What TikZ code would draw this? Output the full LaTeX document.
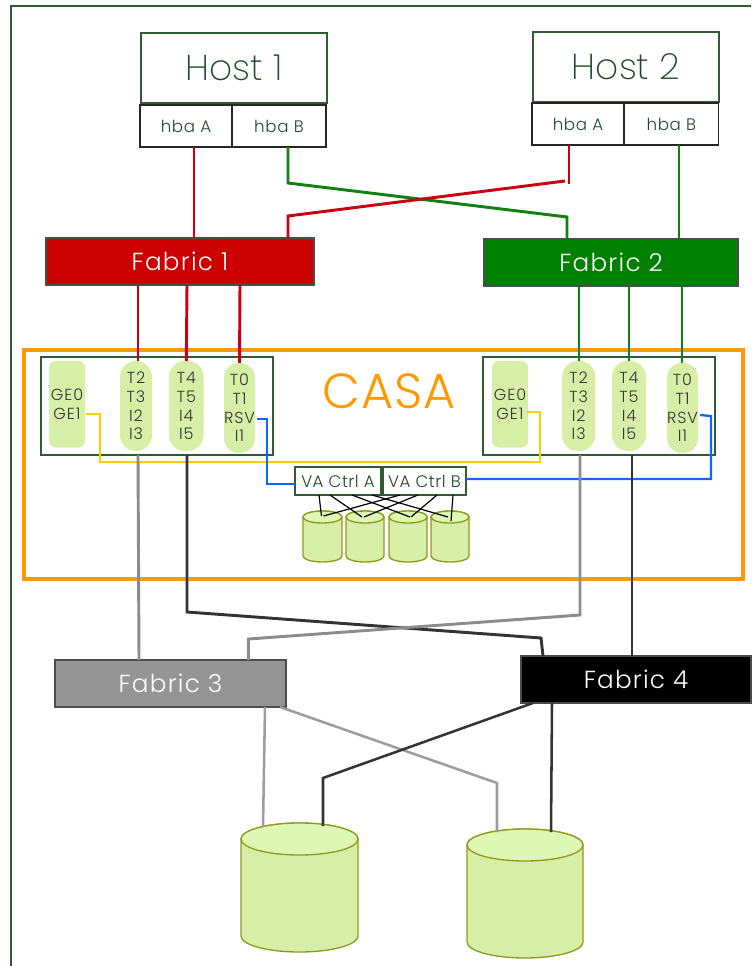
\documentclass[tikz,border=0pt]{standalone}
\usepackage{fontspec}
\setmainfont{Poppins}[UprightFont=*-Light]
\newfontfamily\thinf{Poppins}[UprightFont=*-ExtraLight]
\usetikzlibrary{calc}
\definecolor{frameg}{HTML}{2F5A32}
\definecolor{textg}{HTML}{1E4A22}
\definecolor{pill}{HTML}{D6EEA6}
\definecolor{capc}{HTML}{DFF7B4}
\definecolor{diskedge}{HTML}{8F9A1E}
\definecolor{casa}{HTML}{FF9900}
\definecolor{fred}{HTML}{CC0000}
\definecolor{fgreen}{HTML}{008000}
\definecolor{lred}{HTML}{C80010}
\definecolor{lgreen}{HTML}{108010}
\definecolor{lgray}{HTML}{8C8C8C}
\definecolor{fgray}{HTML}{959595}
\definecolor{ldark}{HTML}{333333}
\definecolor{lblue}{HTML}{0F66FF}
\definecolor{lyellow}{HTML}{FFCC00}
\tikzset{
  px/.style={x=0.75pt,y=-0.75pt},
  every node/.style={outer sep=0pt},
  hostbox/.style={draw=frameg,line width=1.2pt,font=\thinf\fontsize{27}{30}\selectfont,text=textg,inner sep=0pt,anchor=north west,minimum width=139.5pt,minimum height=52.5pt},
  hbabox/.style={draw=black!85,line width=1pt,font=\fontsize{12.5}{14}\selectfont\addfontfeature{LetterSpace=4},text=textg,inner sep=0pt,anchor=north west,minimum height=31.5pt},
  fabric/.style={draw=black!70,line width=.8pt,text=white,font=\fontsize{18.5}{22}\selectfont\addfontfeature{LetterSpace=5},inner sep=0pt,anchor=north west,minimum height=35.25pt},
  portbox/.style={draw=frameg,line width=1pt,anchor=north west,minimum width=174pt,minimum height=73.5pt,inner sep=0pt},
  pillshape/.style={fill=pill,inner sep=0pt,align=center,font=\fontsize{12}{14}\selectfont\addfontfeature{LetterSpace=6},text=black!80,anchor=north west,minimum height=67.5pt},
  vabox/.style={draw=frameg,line width=.9pt,font=\fontsize{12.5}{14}\selectfont\addfontfeature{LetterSpace=3},text=textg,inner sep=0pt,anchor=north west,minimum height=21pt},
  wire/.style={line width=2.2pt},
  lowwire/.style={line width=1.9pt},
  thinwire/.style={line width=.9pt,draw=black},
}
% name, left, right, top, bottom, cap half-height
\newcommand{\diskat}[6]{%
  \path[fill=pill,draw=diskedge,line width=1pt]
    (#2,#5-#6) arc[start angle=180,end angle=360,x radius={(#3-#2)*0.375pt},y radius={#6*0.75pt}]
    -- (#3,#4+#6) arc[start angle=0,end angle=180,x radius={(#3-#2)*0.375pt},y radius={#6*0.75pt}] -- cycle;
  \path[fill=capc,draw=diskedge,line width=1pt]
    (#2,#4+#6) arc[start angle=180,end angle=540,x radius={(#3-#2)*0.375pt},y radius={#6*0.75pt}] -- cycle;
  \coordinate (#1) at ({(#2+#3)/2},#4);
}
\begin{document}
\begin{tikzpicture}[px]
\useasboundingbox (0,0) rectangle (751,966);
% outer frame
\coordinate (fa) at (11,966); \coordinate (fb) at (11,6); \coordinate (fc) at (751,6);
\draw[frameg,line width=.9pt] (fa) -- (fb) -- (fc);

% CASA frame
\node[draw=casa,line width=3pt,minimum width=539.25pt,minimum height=171.75pt,anchor=north west,inner sep=0pt] (casaf) at (24,350) {};
\node[text=casa,font=\fontsize{37}{40}\selectfont\addfontfeature{LetterSpace=2},inner sep=0pt] (casa) at (389,391) {CASA};

% hosts
\node[hostbox] (h1) at (141,33) {\raisebox{-1.5pt}{Host 1}};
\node[hostbox] (h2) at (533,32) {\raisebox{-1.5pt}{Host 2}};
\node[hbabox,minimum width=69pt] (h1a) at (140,105) {hba A};
\node[hbabox,minimum width=70.5pt] (h1b) at (232,105) {hba B};
\node[hbabox,minimum width=69pt] (h2a) at (532,103) {hba A};
\node[hbabox,minimum width=71pt] (h2b) at (624,103) {hba B};

% port boxes
\node[portbox] (b1) at (41,357) {};
\node[portbox] (b2) at (483,357) {};

% fabrics
\node[fabric,fill=fred,minimum width=201pt] (f1) at (46,238) {Fabric 1};
\node[fabric,fill=fgreen,minimum width=190.5pt] (f2) at (484,239) {Fabric 2};
\node[fabric,fill=fgray,minimum width=173.25pt] (f3) at (55,660) {Fabric 3};
\node[fabric,fill=black,minimum width=172.5pt] (f4) at (521,656) {Fabric 4};

% upper wires
\draw[wire,lred] ($(h1a.south west)+(54,0)$) -- ($(f1.north west)+(148,0)$);
\draw[wire,lgreen] ($(h1b.south west)+(56,0)$) -- (288,183) -- (567,217) -- ($(f2.north west)+(83,0)$);
\draw[wire,lred] ($(h2a.south west)+(37,0)$) -- (569,184);
\draw[wire,lred] (565,181) -- (288,216) -- ($(f1.north west)+(242,0)$);
\draw[wire,lgreen] ($(h2b.south west)+(55,0)$) -- ($(f2.north west)+(195,0)$);

% pills left
\node[pillshape,rounded corners=5pt,minimum width=27pt,minimum height=65pt] (ge1) at (49,361) {GE0\\GE1};
\node[pillshape,rounded corners=12pt,minimum width=24pt] (p12) at (120,361) {T2\\T3\\I2\\I3};
\node[pillshape,rounded corners=12pt,minimum width=26pt] (p14) at (169,361) {T4\\T5\\I4\\I5};
\node[pillshape,rounded corners=11pt,minimum width=22.5pt] (p10) at (224,363) {T0\\T1\\RSV\\I1};
% pills right
\node[pillshape,rounded corners=5pt,minimum width=27pt,minimum height=65pt] (ge2) at (492,361) {GE0\\GE1};
\node[pillshape,rounded corners=12pt,minimum width=25pt] (p22) at (562,361) {T2\\T3\\I2\\I3};
\node[pillshape,rounded corners=12pt,minimum width=25.5pt] (p24) at (612,361) {T4\\T5\\I4\\I5};
\node[pillshape,rounded corners=11pt,minimum width=22.5pt] (p20) at (667,363) {T0\\T1\\RSV\\I1};

% fabric to port wires
\draw[wire,lred] ($(f1.south west)+(92,0)$) -- ($(p12.north west)+(18,0)$);
\draw[wire,lred] ($(f1.south west)+(141,0)$) -- (p14.north);
\draw[wire,lred] ($(f1.south west)+(194,0)$) -- (p10.north);
\draw[wire,lgreen] ($(f2.south west)+(95,0)$) -- ($(p22.north west)+(17,0)$);
\draw[wire,lgreen] ($(f2.south west)+(145,0)$) -- ($(p24.north west)+(17,0)$);
\draw[wire,lgreen] ($(f2.south west)+(198,0)$) -- ($(p20.north west)+(15,0)$);

% VA controllers
\node[vabox,minimum width=64.5pt] (vaa) at (295,467) {VA Ctrl A};
\node[vabox,minimum width=62.25pt] (vab) at (383,467) {VA Ctrl B};

% yellow and blue links
\draw[lyellow,line width=1.1pt] (86,414) -- (100,414) -- (100,462) -- (540,462) -- (540,412) -- (527,412);
\draw[lblue,line width=1.7pt] (257,419) -- (267,419) -- (267,484) -- (vaa.west |- 0,484);
\draw[lblue,line width=1.7pt] (vab.east |- 0,479) -- (711,479) -- (711,416) -- (700,415);

% small disks
\diskat{d1}{303}{342}{511}{562}{6}
\diskat{d2}{346}{384}{511}{562}{6}
\diskat{d3}{389}{427}{511}{562}{6}
\diskat{d4}{431}{469}{511}{562}{6}
\draw[thinwire] ($(vaa.south west)+(24,0)$) -- ($(d1)+(-1,5)$);
\draw[thinwire] ($(vaa.south west)+(35,0)$) -- ($(d2)+(-3,6)$);
\draw[thinwire] ($(vaa.south west)+(57,0)$) -- ($(d3)+(2,6)$);
\draw[thinwire] ($(vaa.south west)+(77,0)$) -- ($(d4)+(-2,6)$);
\draw[thinwire] ($(vab.south west)+(17,0)$) -- ($(d1)+(1,5)$);
\draw[thinwire] ($(vab.south west)+(35,0)$) -- ($(d2)+(-1,6)$);
\draw[thinwire] ($(vab.south west)+(54,0)$) -- ($(d3)+(3,6)$);
\draw[thinwire] ($(vab.south west)+(70,0)$) -- ($(d4)+(1,10)$);

% big disks
\diskat{bd1}{241}{358}{823}{952}{16}
\diskat{bd2}{467}{583}{829}{958}{16}

% lower wires
\draw[wire,lgray] ($(b1.south west)+(97,0)$) -- ($(f3.north west)+(84,0)$);
\draw[wire,ldark] ($(b1.south west)+(146,0)$) -- (187,612) -- (541,638) -- ($(f4.north west)+(22,0)$);
\draw[wire,lgray] ($(b2.south west)+(97,0)$) -- (580,615) -- (248.5,639) -- ($(f3.north west)+(193.5,0)$);
\draw[wire,ldark] ($(b2.south west)+(149,0)$) -- ($(f4.north west)+(111,0)$);
\draw[lowwire,lgray!85] ($(f3.south west)+(210,0)$) -- ($(bd1)+(-36.5,4)$);
\draw[lowwire,lgray!85] ($(f3.south west)+(225,0)$) -- (497,783) -- ($(bd2)+(-28,3)$);
\draw[lowwire,ldark] ($(f4.south west)+(12,0)$) -- (323,778) -- ($(bd1)+(23.5,3)$);
\draw[lowwire,ldark] ($(f4.south west)+(31,0)$) -- ($(bd2)+(26,3)$);
\end{tikzpicture}
\end{document}
